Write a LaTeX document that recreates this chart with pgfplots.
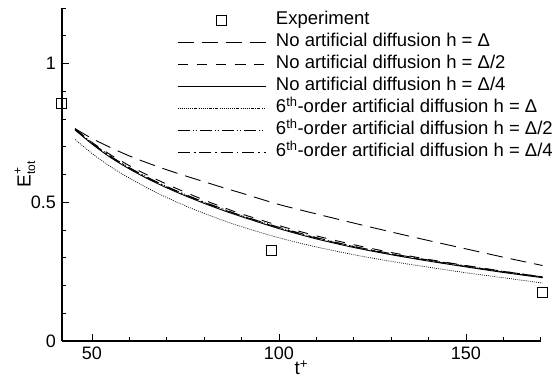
\documentclass[border=0pt]{standalone}
\usepackage{fontspec}
\setmainfont{Liberation Sans}
\usepackage{pgfplots}
\pgfplotsset{compat=1.18}
\begin{document}
\fontsize{18}{22}\selectfont
\begin{tikzpicture}
\begin{axis}[
  name=ax,
  scale only axis,
  width=478.7pt, height=333pt,
  xmin=42, xmax=170, ymin=0, ymax=1.2,
  axis x line=bottom, axis y line=left,
  axis line style={-, line width=1.1pt},
  xtick={50,100,150}, ytick={0,0.5,1},
  minor xtick={60,70,80,90,110,120,130,140,160,170},
  minor ytick={0.1,0.2,0.3,0.4,0.6,0.7,0.8,0.9,1.1,1.2},
  tick align=inside,
  major tick length=7pt, minor tick length=4pt,
  tick style={line width=0.8pt, black},
  /pgf/number format/assume math mode=true,
  ticklabel style={font=\fontsize{18}{22}\selectfont},
  xlabel={t\textsuperscript{+}},
  xlabel style={at={(rel axis cs:0.5,0)}, anchor=base, yshift=-34pt, inner sep=0pt},
  ylabel={E\makebox[0pt][l]{\raisebox{0.9ex}{\fontsize{12}{13}\selectfont +}}\raisebox{-0.45ex}{\fontsize{12}{13}\selectfont tot}},
  ylabel style={at={(rel axis cs:0,0.5)}, anchor=center, yshift=37pt, inner sep=0pt},
  label style={font=\fontsize{19}{22}\selectfont},
  clip=false,
  legend image code/.code={\draw[mark repeat=2,mark phase=2,#1] plot coordinates {(0pt,0pt) (44pt,0pt) (88pt,0pt)};},
  legend style={draw=none, fill=none, at={(rel axis cs:0.240,0.9907)}, anchor=north west,
    font=\fontsize{18.5}{22}\selectfont, inner sep=0pt, row sep=4.5pt, column sep=10pt,
    nodes={inner sep=0pt, text height=13.5pt, text depth=4pt}},
  legend cell align=left,
]
\addplot[only marks, mark=square, mark size=5pt, line width=1pt, black]
  coordinates {(42,0.855)(98.1,0.325)(170.5,0.175)};
\addlegendentry{Experiment}
\addplot[black, line width=0.9pt, dash pattern=on 16pt off 8pt, smooth] coordinates {
(45.5,0.765)(50,0.730)(55,0.697)(60,0.667)(65,0.641)(70,0.617)(75,0.595)(80,0.574)(85,0.553)(90,0.533)(100,0.492)(110,0.458)(120,0.425)(130,0.393)(140,0.362)(150,0.332)(160,0.302)(170.5,0.272)};
\addlegendentry{No artificial diffusion h = Δ}
\addplot[black, line width=0.9pt, dash pattern=on 10pt off 9pt, smooth] coordinates {
(45.5,0.763)(50,0.716)(55,0.671)(60,0.632)(65,0.597)(70,0.565)(75,0.536)(80,0.508)(85,0.482)(90,0.458)(100,0.416)(110,0.379)(120,0.347)(130,0.319)(140,0.294)(150,0.272)(160,0.251)(170.5,0.231)};
\addlegendentry{No artificial diffusion h = Δ/2}
\addplot[black, line width=0.9pt, solid, smooth] coordinates {
(45.5,0.762)(50,0.710)(55,0.661)(60,0.620)(65,0.584)(70,0.552)(75,0.523)(80,0.496)(85,0.471)(90,0.448)(100,0.405)(110,0.368)(120,0.337)(130,0.311)(140,0.288)(150,0.267)(160,0.247)(170.5,0.228)};
\addlegendentry{No artificial diffusion h = Δ/4}
\addplot[black, line width=0.7pt, dash pattern=on 0.9pt off 1.2pt, smooth] coordinates {
(45.5,0.726)(50,0.676)(55,0.628)(60,0.587)(65,0.550)(70,0.517)(75,0.487)(80,0.460)(85,0.435)(90,0.412)(100,0.372)(110,0.339)(120,0.311)(130,0.287)(140,0.266)(150,0.246)(160,0.228)(170.5,0.209)};
\addlegendentry{6\textsuperscript{th}-order artificial diffusion h = Δ}
\addplot[black, line width=0.9pt, dash pattern=on 12pt off 3pt on 1pt off 2pt on 1pt off 3pt, smooth] coordinates {
(45.5,0.766)(50,0.714)(55,0.666)(60,0.625)(65,0.589)(70,0.557)(75,0.528)(80,0.501)(85,0.476)(90,0.452)(100,0.410)(110,0.373)(120,0.341)(130,0.315)(140,0.292)(150,0.271)(160,0.251)(170.5,0.231)};
\addlegendentry{6\textsuperscript{th}-order artificial diffusion h = Δ/2}
\addplot[black, line width=0.9pt, dash pattern=on 12pt off 4pt on 1.5pt off 4pt, smooth] coordinates {
(45.5,0.760)(50,0.712)(55,0.664)(60,0.623)(65,0.587)(70,0.555)(75,0.526)(80,0.499)(85,0.474)(90,0.451)(100,0.408)(110,0.371)(120,0.340)(130,0.313)(140,0.290)(150,0.269)(160,0.249)(170.5,0.229)};
\addlegendentry{6\textsuperscript{th}-order artificial diffusion h = Δ/4}
\end{axis}
\pgfresetboundingbox
\path[use as bounding box] ([shift={(-62pt,-37pt)}]ax.south west) rectangle ([shift={(14.3pt,8pt)}]ax.north east);
\end{tikzpicture}
\end{document}
